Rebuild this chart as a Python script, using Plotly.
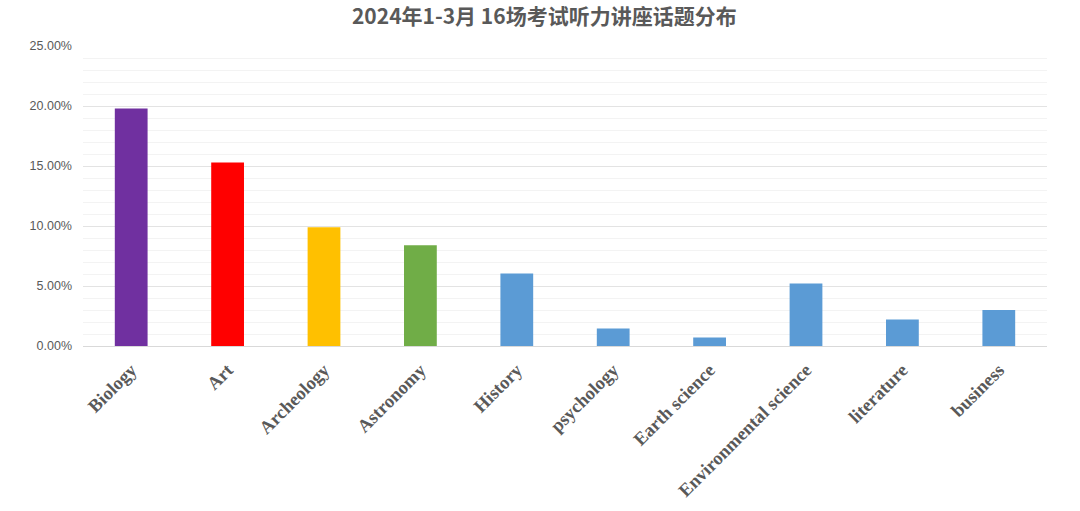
import plotly.graph_objects as go

# topics and their share of the 16 exams
topics = ["Biology", "Art", "Archeology", "Astronomy", "History", "psychology",
          "Earth science", "Environmental science", "literature", "business"]
shares = [0.198, 0.153, 0.099, 0.084, 0.0605, 0.0145, 0.007, 0.052, 0.022, 0.030]
bar_colors = ["#7030A0", "#FF0000", "#FFC000", "#70AD47", "#5B9BD5", "#5B9BD5",
              "#5B9BD5", "#5B9BD5", "#5B9BD5", "#5B9BD5"]
y_ticks = [0, 0.05, 0.10, 0.15, 0.20, 0.25]

fig = go.Figure()

fig.add_trace(
    go.Bar(
        x=topics,
        y=shares,
        marker={"color": bar_colors, "line": {"width": 0}},
        hovertemplate="%{x}: %{y:.2%}<extra></extra>",
    )
)

fig.update_layout(
    width=1080,
    height=511,
    showlegend=False,
    plot_bgcolor="white",
    paper_bgcolor="white",
    bargap=0.66,
    margin={"t": 46, "r": 33, "l": 83, "b": 165, "autoexpand": False},
    title={
        "text": "<b>2024年1-3月 16场考试听力讲座话题分布</b>",
        "x": 0.504,
        "xanchor": "center",
        "xref": "container",
        "y": 0.967,
        "yanchor": "middle",
        "font": {"family": "Noto Sans CJK SC", "size": 21, "color": "#595959"},
    },
    xaxis={
        "tickangle": -45,
        "tickfont": {"family": "Liberation Serif", "size": 18.5, "color": "#595959", "weight": "bold"},
        "showgrid": False,
        "showline": True,
        "linecolor": "#d9d9d9",
        "linewidth": 1,
        "ticks": "",
        "ticklabelstandoff": 5,
        "automargin": False,
    },
    yaxis={
        "range": [0, 0.25],
        "tickvals": y_ticks,
        "tickformat": ".2%",
        "tickfont": {"family": "Liberation Sans", "size": 12.5, "color": "#595959"},
        "gridcolor": "#e3e3e3",
        "gridwidth": 1,
        "zeroline": False,
        "ticks": "",
        "ticklabelstandoff": 10,
        "automargin": False,
        "minor": {"dtick": 0.01, "showgrid": True, "gridcolor": "#f3f3f3", "gridwidth": 1},
    },
)

# drop the browser's default 8px body margin so the figure fills the window
fig.write_html(
    "out.html",
    config={"displayModeBar": False},
    post_script="document.body.style.margin = '0';",
)
